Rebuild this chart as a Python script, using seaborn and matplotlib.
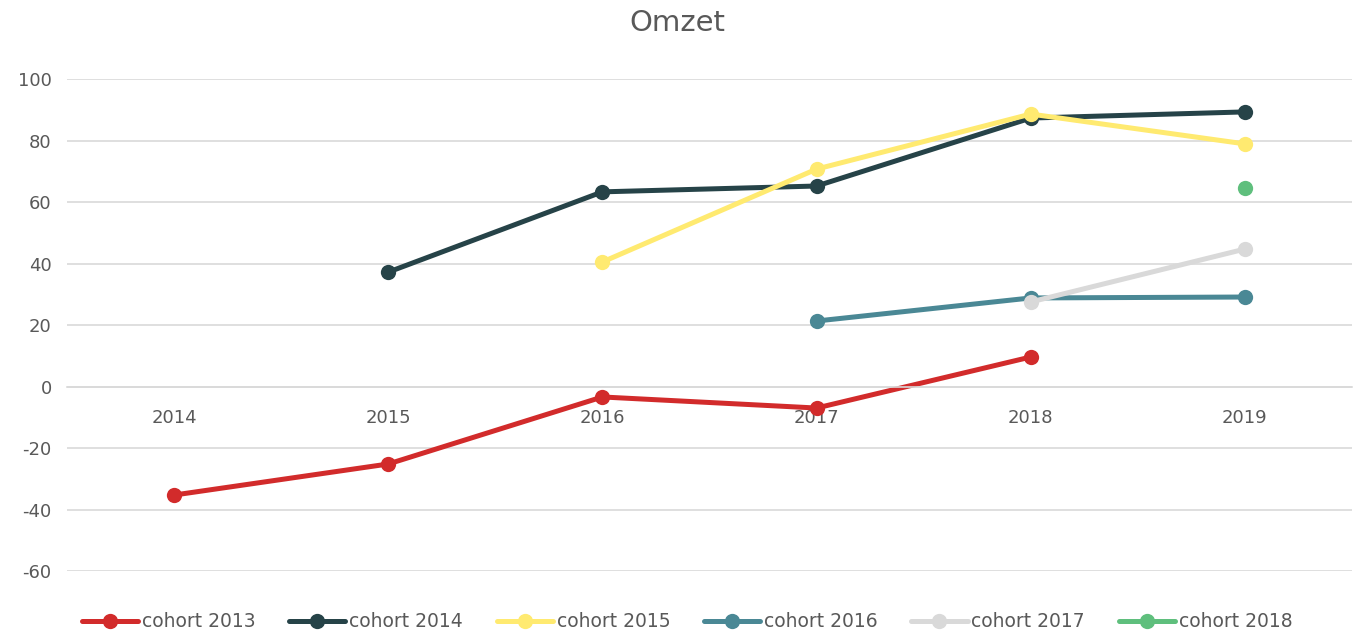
import pandas as pd
import numpy as np
import matplotlib.pyplot as plt
import seaborn as sns

# ── data ────────────────────────────────────────────────────────────────────
years = [2014, 2015, 2016, 2017, 2018, 2019]
cohorts = ["cohort 2013", "cohort 2014", "cohort 2015",
           "cohort 2016", "cohort 2017", "cohort 2018"]

cohort_2013 = [-35.3, -25.2, -3.4, -7.0, 9.6, np.nan]
cohort_2014 = [np.nan, 37.2, 63.3, 65.2, 87.3, 89.3]
cohort_2015 = [np.nan, np.nan, 40.5, 70.7, 88.6, 78.9]
cohort_2016 = [np.nan, np.nan, np.nan, 21.3, 28.8, 29.1]
cohort_2017 = [np.nan, np.nan, np.nan, np.nan, 27.5, 44.7]
cohort_2018 = [np.nan, np.nan, np.nan, np.nan, np.nan, 64.6]

colors = ["#D22B2B", "#264348", "#FFEA70", "#4A8895", "#D9D9D9", "#5FBF7D"]

# long-form table for seaborn
wide = pd.DataFrame(
    dict(zip(cohorts, [cohort_2013, cohort_2014, cohort_2015,
                       cohort_2016, cohort_2017, cohort_2018])),
    index=years)
df = (wide.reset_index(names="jaar")
          .melt(id_vars="jaar", var_name="cohort", value_name="omzet")
          .dropna())

# ── figure ──────────────────────────────────────────────────────────────────
sns.set_style("white")
plt.rcParams["font.family"] = ["DejaVu Sans"]
plt.rcParams["axes.unicode_minus"] = False
text_color = "#595959"

fig = plt.figure(figsize=(13.55, 6.32), dpi=100)
ax = fig.add_axes([0.0494, 0.0965, 0.9484, 0.7785])

sns.lineplot(data=df, x="jaar", y="omzet", hue="cohort",
             hue_order=cohorts, palette=colors, marker="o",
             markersize=11, markeredgewidth=0, linewidth=3.6,
             ax=ax, legend=True)

for ln in ax.lines:
    ln.set_clip_on(False)

ax.set_xlim(2013.5, 2019.5)
ax.set_ylim(-60, 100)
ax.set_yticks(range(-60, 101, 20))
ax.set_xticks(years)
ax.set_xticklabels([str(y) for y in years])
ax.set_xlabel("")
ax.set_ylabel("")

ax.grid(axis="y", color="#D9D9D9", linewidth=1.2)
ax.set_axisbelow(True)
for side in ["left", "right", "top"]:
    ax.spines[side].set_visible(False)
# category labels sit next to the zero line, Excel-style
ax.spines["bottom"].set_position(("data", 0))
ax.spines["bottom"].set_color("#D9D9D9")
ax.spines["bottom"].set_linewidth(1.2)

ax.tick_params(axis="x", length=0, pad=16, labelsize=13, labelcolor=text_color)
ax.tick_params(axis="y", length=0, pad=11, labelsize=13, labelcolor=text_color)

fig.suptitle("Omzet", fontsize=21, color=text_color, y=0.985)

handles, labels = ax.get_legend_handles_labels()
ax.get_legend().remove()
fig.legend(handles, labels, loc="center", bbox_to_anchor=(0.507, 0.016),
           ncol=6, frameon=False, fontsize=13.5, labelcolor=text_color,
           handlelength=3.0, handletextpad=0.2, columnspacing=1.8)

plt.savefig("out.png", dpi=100)
